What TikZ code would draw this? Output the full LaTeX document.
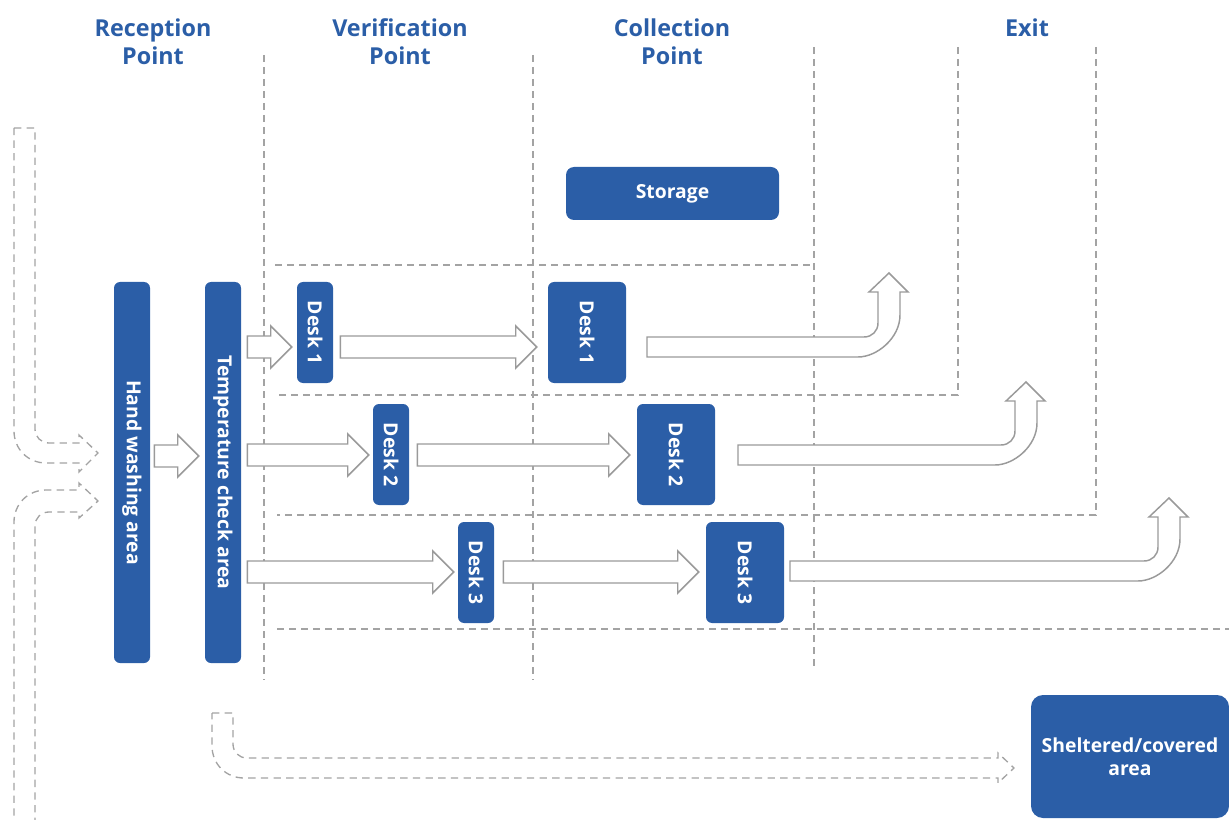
\documentclass[tikz,border=0pt]{standalone}
\usepackage{fontspec}
\usepackage{graphicx}
\setmainfont{Open Sans}
\usetikzlibrary{calc}
\definecolor{boxblue}{HTML}{2B5EA7}
\definecolor{linegray}{HTML}{A3A3A3}
\definecolor{arrgray}{HTML}{9A9A9A}
\newcommand{\blockarr}[2]{%
  \draw[blockarrow] let \p1=#1, \p2=#2 in
   (\x1,\y1+8.25pt) -- (\x2-15.75pt,\y1+8.25pt) -- (\x2-15.75pt,\y1+15.75pt) -- (\x2,\y1)
   -- (\x2-15.75pt,\y1-15.75pt) -- (\x2-15.75pt,\y1-8.25pt) -- (\x1,\y1-8.25pt) -- cycle;}
\newcommand{\exitarr}[4]{%
  \draw[blockarrow] (#1,#2) -- ({#3-14},#2) .. controls ({#3-6},#2) and (#3,{#2-6}) .. (#3,{#2-14})
   -- (#3,#4) -- ({#3-9},#4) -- ({#3+11},{#4-19}) -- ({#3+30},#4) -- ({#3+22},#4)
   -- ({#3+22},{#2-22}) .. controls ({#3+22},{#2+1}) and ({#3-1},{#2+20}) .. ({#3-20},{#2+20})
   -- (#1,{#2+20}) -- cycle;}
\begin{document}
\begin{tikzpicture}[x=0.75pt,y=-0.75pt,
  box/.style={fill=boxblue, text=white, rounded corners=4.5pt, inner sep=0pt,
    font=\bfseries\fontsize{14.5}{17.5}\selectfont, align=center},
  head/.style={text=boxblue, font=\bfseries\fontsize{17.5}{21}\selectfont, align=center, inner sep=0pt},
  gridline/.style={draw=linegray, line width=1pt, dash pattern=on 5.25pt off 3.75pt},
  dasharrow/.style={draw=linegray, line width=1pt, dash pattern=on 5.5pt off 4pt},
  blockarrow/.style={draw=arrgray, fill=white, line width=1.1pt, line join=miter}]
\useasboundingbox (0,0) rectangle (1229,820);

% headers
\node[head] (hrec) at (153,42) {Reception\\Point};
\node[head] (hver) at (400,42) {Verification\\Point};
\node[head] (hcol) at (672,42) {Collection\\Point};
\node[head] (hexit) at (1027,28) {Exit};

% grid
\draw[gridline] (264,55) -- (264,680);
\draw[gridline] (533,55) -- (533,680);
\draw[gridline] (814,47) -- (814,670);
\draw[gridline] (275,265) -- (814,265);
\draw[gridline] (958,47) -- (958,395) -- (277,395);
\draw[gridline] (1096,47) -- (1096,515) -- (277,515);
\draw[gridline] (277,629) -- (1229,629);

% boxes
\node[box, minimum width=159.75pt, minimum height=39.75pt, rounded corners=6pt] (storage) at (672.5,193.5) {Storage};
\node[box, minimum width=27pt, minimum height=285.75pt] (hand) at (132,472.5) {\rotatebox[origin=c]{-90}{Hand washing area}};
\node[box, minimum width=27pt, minimum height=285.75pt] (temp) at (223,472.5) {\rotatebox[origin=c]{-90}{Temperature check area}};
\node[box, minimum width=27pt, minimum height=75.75pt] (d1v) at (315,332.5) {\rotatebox[origin=c]{-90}{Desk 1}};
\node[box, minimum width=58.5pt, minimum height=75.75pt] (d1c) at (587,332.5) {\rotatebox[origin=c]{-90}{Desk 1}};
\node[box, minimum width=27pt, minimum height=75.75pt] (d2v) at (391,454.5) {\rotatebox[origin=c]{-90}{Desk 2}};
\node[box, minimum width=58.5pt, minimum height=75.75pt] (d2c) at (676,454.5) {\rotatebox[origin=c]{-90}{Desk 2}};
\node[box, minimum width=27pt, minimum height=75.75pt] (d3v) at (476,572.5) {\rotatebox[origin=c]{-90}{Desk 3}};
\node[box, minimum width=58.5pt, minimum height=75.75pt] (d3c) at (745,572.5) {\rotatebox[origin=c]{-90}{Desk 3}};
\node[box, minimum width=148.5pt, minimum height=92.25pt, rounded corners=9pt] (shelter) at (1130,756.5) {Sheltered/covered\\area};

% row levels
\coordinate (r0) at (0,456);
\coordinate (r1) at (0,347);
\coordinate (r2) at (0,455);
\coordinate (r3) at (0,572);

% block arrows
\blockarr{($(hand.east|-r0)+(4,0)$)}{($(temp.west|-r0)+(-6,0)$)}
\blockarr{($(temp.east|-r1)+(6,0)$)}{($(d1v.west|-r1)+(-5,0)$)}
\blockarr{($(d1v.east|-r1)+(7,0)$)}{($(d1c.west|-r1)+(-11,0)$)}
\blockarr{($(temp.east|-r2)+(6,0)$)}{($(d2v.west|-r2)+(-4,0)$)}
\blockarr{($(d2v.east|-r2)+(8,0)$)}{($(d2c.west|-r2)+(-7,0)$)}
\blockarr{($(temp.east|-r3)+(6,0)$)}{($(d3v.west|-r3)+(-4,0)$)}
\blockarr{($(d3v.east|-r3)+(9,0)$)}{($(d3c.west|-r3)+(-7,0)$)}

% exit arrows
\exitarr{647}{337}{878}{292}
\exitarr{738}{445}{1015}{401}
\exitarr{790}{561}{1158}{517}

% dashed flow arrows
\draw[dasharrow] (14,128) -- (35,128) -- (35,429) .. controls (35,437) and (41,443) .. (49,443)
  -- (79,443) -- (79,435) -- (98,453) -- (79,472) -- (79,463) -- (46,463)
  .. controls (28,463) and (14,449) .. (14,431) -- cycle;
\draw[dasharrow] (35,825) -- (35,526) .. controls (35,518) and (41,512) .. (49,512)
  -- (79,512) -- (79,518) -- (98,501) -- (79,483) -- (79,490) -- (46,490)
  .. controls (28,490) and (14,504) .. (14,522) -- (14,825);
\draw[dasharrow] (212,713) -- (233,713) -- (233,744) .. controls (233,752) and (239,758) .. (247,758)
  -- (998,758) -- (998,753) -- (1014,768) -- (998,783) -- (998,778) -- (244,778)
  .. controls (226,778) and (212,764) .. (212,746) -- cycle;
\end{tikzpicture}
\end{document}
